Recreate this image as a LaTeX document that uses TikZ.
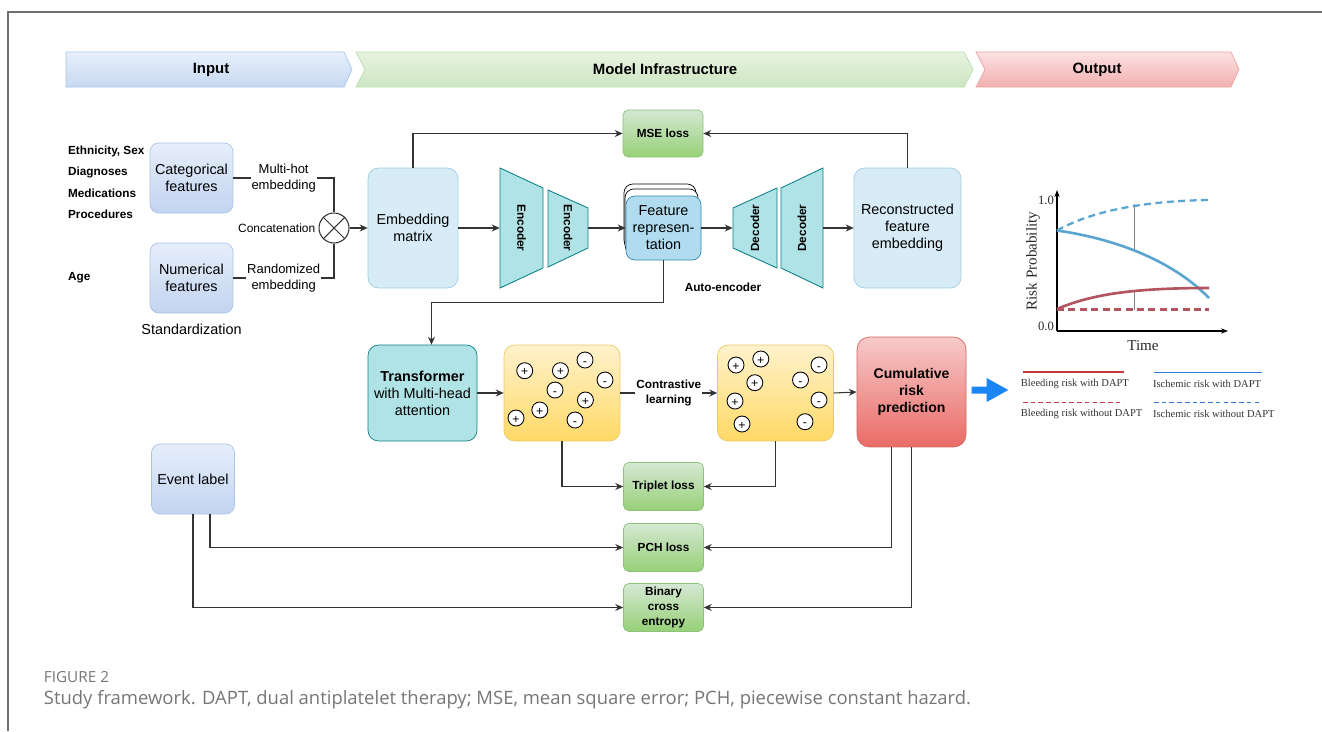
\documentclass[tikz,border=0pt]{standalone}
\usepackage{fontspec}
\setmainfont{Liberation Sans}
\newfontfamily\chartfont{Liberation Serif}
\newfontfamily\capfont{Open Sans}
\usetikzlibrary{shapes.geometric, arrows.meta, positioning, calc}
\definecolor{lineGray}{RGB}{51,51,51}
\definecolor{frameGray}{RGB}{110,110,110}
\definecolor{capGray}{RGB}{118,118,118}
\definecolor{inTop}{RGB}{230,238,250}
\definecolor{inBot}{RGB}{194,212,240}
\definecolor{inLine}{RGB}{169,195,232}
\definecolor{embFill}{RGB}{215,236,246}
\definecolor{embLine}{RGB}{159,205,227}
\definecolor{featFill}{RGB}{177,220,239}
\definecolor{featLine}{RGB}{46,134,181}
\definecolor{tealFill}{RGB}{176,227,230}
\definecolor{tealLine}{RGB}{14,128,136}
\definecolor{yelTop}{RGB}{255,242,204}
\definecolor{yelBot}{RGB}{255,217,102}
\definecolor{yelLine}{RGB}{232,201,106}
\definecolor{redTop}{RGB}{246,202,202}
\definecolor{redBot}{RGB}{234,107,102}
\definecolor{redLine}{RGB}{207,102,97}
\definecolor{grnTop}{RGB}{213,232,212}
\definecolor{grnBot}{RGB}{151,208,119}
\definecolor{grnLine}{RGB}{141,194,122}
\definecolor{hBlueTop}{RGB}{232,240,251}
\definecolor{hBlueBot}{RGB}{198,216,241}
\definecolor{hBlueLine}{RGB}{169,196,235}
\definecolor{hGrnTop}{RGB}{232,243,226}
\definecolor{hGrnBot}{RGB}{205,230,193}
\definecolor{hGrnLine}{RGB}{185,221,170}
\definecolor{hRedTop}{RGB}{252,225,225}
\definecolor{hRedBot}{RGB}{242,176,176}
\definecolor{hRedLine}{RGB}{235,163,163}
\definecolor{curveBlue}{RGB}{91,166,208}
\definecolor{curveRed}{RGB}{179,84,94}
\definecolor{legRed}{RGB}{200,57,63}
\definecolor{legBlue}{RGB}{46,123,209}
\definecolor{arrBlue}{RGB}{26,134,245}

\begin{document}
\begin{tikzpicture}[x=0.02cm, y=-0.02cm,
  every node/.style={font=\fontsize{8.2}{9.7}\selectfont, align=center, inner sep=1pt},
  bsmall/.style={font=\fontsize{6.7}{8.3}\selectfont\bfseries},
  conn/.style={draw=lineGray, line width=0.6pt, -{Stealth[length=4.5pt, width=4pt]}},
  plain/.style={draw=lineGray, line width=0.6pt},
  lbl/.style={fill=white, inner sep=0.5pt, font=\fontsize{6.8}{8.7}\selectfont},
  inbox/.style={draw=inLine, top color=inTop, bottom color=inBot, rounded corners=5pt, minimum width=1.66cm, minimum height=1.4cm},
  embbox/.style={draw=embLine, fill=embFill, rounded corners=6pt, minimum height=2.4cm},
  coder/.style={draw=tealLine, fill=tealFill, line width=0.5pt},
  lossbox/.style={bsmall, draw=grnLine, top color=grnTop, bottom color=grnBot, rounded corners=3pt, minimum width=1.6cm, minimum height=0.96cm},
  dotbox/.style={draw=yelLine, top color=yelTop, bottom color=yelBot, rounded corners=6pt, minimum width=2.32cm, minimum height=1.92cm},
  pm/.style={circle, draw=black, fill=white, line width=0.5pt, minimum size=0.32cm, inner sep=0pt, text height=0.6em, text depth=0pt, font=\fontsize{7}{7}\selectfont},
  chart/.style={font=\fontsize{8.6}{10}\chartfont, text=black!85},
  legtxt/.style={anchor=west, inner sep=0pt, font=\fontsize{6}{7}\chartfont, text=black!80},
  hfont/.style={font=\fontsize{8.5}{10}\selectfont\bfseries}]
  \useasboundingbox (0,0) rectangle (1322,731);
  % page frame
  \draw[frameGray, line width=0.7pt] (8,731) -- (8,12) -- (1322,12);
  % Header
  \shade[top color=hBlueTop, bottom color=hBlueBot, draw=hBlueLine] (66,52) -- (344,52) -- (352,69.5) -- (344,87) -- (66,87) -- cycle;
  \shade[top color=hGrnTop, bottom color=hGrnBot, draw=hGrnLine] (356,52) -- (964,52) -- (973,69.5) -- (964,87) -- (356,87) -- (365,69.5) -- cycle;
  \shade[top color=hRedTop, bottom color=hRedBot, draw=hRedLine] (976,52) -- (1231,52) -- (1239,69.5) -- (1231,87) -- (976,87) -- (985,69.5) -- cycle;
  \node[hfont] (hIn) at (211,69.5) {Input};
  \node[hfont] (hModel) at (665,69.5) {Model Infrastructure};
  \node[hfont] (hOut) at (1097,69.5) {Output};
  % Input features
  \node[bsmall, anchor=west] (lEth) at (66,151) {Ethnicity, Sex};
  \node[bsmall, anchor=west] (lDia) at (66,172) {Diagnoses};
  \node[bsmall, anchor=west] (lMed) at (66,193) {Medications};
  \node[bsmall, anchor=west] (lPro) at (66,214) {Procedures};
  \node[bsmall, anchor=west] (lAge) at (66,278) {Age};
  \node[inbox] (cat) at (191.5,178) {Categorical\\features};
  \node[inbox] (num) at (191.5,278) {Numerical\\features};
  \node[below=0.17cm of num] (std) {Standardization};
  \node[inbox] (ev) at (193,479) {Event label};
  % Concatenation
  \node[circle, draw=lineGray, line width=0.6pt, minimum size=0.6cm, inner sep=0pt] (cc) at (334,228) {};
  \draw[lineGray, line width=0.6pt] (cc.north west) -- (cc.south east) (cc.north east) -- (cc.south west);
  \node[lbl, left=0.04cm of cc] (ccl) {Concatenation};
  \draw[plain] (cat.east) -| node[lbl, pos=0.25, font=\fontsize{7.4}{8.7}\selectfont] {Multi-hot\\embedding} (cc.north);
  \draw[plain] (num.east) -| node[lbl, pos=0.25, font=\fontsize{7.4}{8.7}\selectfont] {Randomized\\embedding} (cc.south);
  % Auto-encoder
  \node[embbox, minimum width=1.8cm] (emb) at (413,228) {Embedding\\matrix};
  \node[embbox, minimum width=2.14cm] (rec) at (907.5,228) {Reconstructed\\feature\\embedding};
  \draw[coder] (500,168) -- (543,188) -- (543,268) -- (500,288) -- cycle;
  \draw[coder] (548,190) -- (588,208) -- (588,248) -- (548,267) -- cycle;
  \draw[coder] (733,208) -- (777,188) -- (777,268) -- (733,248) -- cycle;
  \draw[coder] (781,188) -- (823,168) -- (823,288) -- (781,268) -- cycle;
  \node[bsmall, rotate=-90, minimum width=2.4cm, minimum height=0.86cm] (enc1) at (521.5,228) {Encoder};
  \node[bsmall, rotate=-90, minimum width=1.54cm, minimum height=0.8cm] (enc2) at (568,228) {Encoder};
  \node[bsmall, rotate=90, minimum width=1.6cm, minimum height=0.88cm] (dec1) at (755,228) {Decoder};
  \node[bsmall, rotate=90, minimum width=2.4cm, minimum height=0.84cm] (dec2) at (802,228) {Decoder};
  \node[draw=black, fill=white, rounded corners=5pt, minimum width=1.44cm, minimum height=1.3cm] (featB1) at (660,216.5) {};
  \node[draw=black, fill=white, rounded corners=5pt, minimum width=1.46cm, minimum height=1.3cm] (featB2) at (661.5,221.5) {};
  \node[draw=featLine, fill=featFill, rounded corners=5pt, minimum width=1.5cm, minimum height=1.28cm] (feat) at (663.5,228) {Feature\\represen-\\tation};
  \node[bsmall] (ae) at (723,287) {Auto-encoder};
  \node[lossbox, minimum height=0.94cm] (mse) at (663,133.5) {MSE loss};
  \draw[conn] (cc.east) -- (emb.west);
  \draw[conn] (emb.east) -- (enc1.south);
  \draw[conn] (enc2.north) -- (feat.west);
  \draw[conn] (feat.east) -- (dec1.north);
  \draw[conn] (dec2.south) -- (rec.west);
  \draw[conn] (emb.north) |- (mse.west);
  \draw[conn] (rec.north) |- (mse.east);
  % Contrastive learning
  \node[draw=tealLine, fill=tealFill, rounded corners=6pt, minimum width=2.18cm, minimum height=1.92cm] (trans) at (422.5,393) {\textbf{Transformer}\\with Multi-head\\attention};
  \node[dotbox] (y1) at (562,393) {};
  \node[dotbox] (y2) at (775.5,393) {};
  \foreach \px/\py/\sg [count=\i] in {524.7/370.7/+, 560.4/370.7/+, 585/360/-, 605/380/-, 555/390/-, 585.4/400/+, 539.8/410/+, 516/418/+, 575/420/-}
    \node[pm] (a\i) at (\px,\py) {\sg};
  \foreach \px/\py/\sg [count=\i] in {736/365/+, 760.8/359/+, 754.8/382.7/+, 735/401/+, 742/424/+, 819/365/-, 800.5/380/-, 819/400/-, 805/421.7/-}
    \node[pm] (b\i) at (\px,\py) {\sg};
  \node[draw=redLine, top color=redTop, bottom color=redBot, rounded corners=7pt, minimum width=2.18cm, minimum height=2.2cm, font=\fontsize{8}{9.7}\selectfont\bfseries] (cum) at (911.5,392) {Cumulative\\risk\\prediction};
  \draw[conn] (feat.south) -- ++(0,42) -| ([xshift=0.18cm]trans.north);
  \draw[conn] (trans.east) -- (y1.west);
  \draw[conn] (y1.east) -- node[lbl, bsmall] {Contrastive\\learning} (y2.west);
  \draw[conn] (y2.east) -- (cum.west);
  % Losses
  \node[lossbox] (trip) at (663.5,486.5) {Triplet loss};
  \node[lossbox] (pch) at (663.5,547.5) {PCH loss};
  \node[lossbox] (bce) at (663.5,607.5) {Binary\\cross\\entropy};
  \draw[conn] (y1.south) |- (trip.west);
  \draw[conn] (y2.south) |- (trip.east);
  \draw[conn] ([xshift=-0.4cm]cum.south) |- (pch.east);
  \draw[conn] (cum.south) |- (bce.east);
  \draw[conn] ([xshift=0.34cm]ev.south) |- (pch.west);
  \draw[conn] (ev.south) |- (bce.west);
  % Output chart
  \fill[arrBlue] (971.7,386.5) -- (986.7,386.5) -- (986.7,378) -- (1008.3,390) -- (986.7,402) -- (986.7,393.5) -- (971.7,393.5) -- cycle;
  \draw[black, line width=0.9pt, -{Stealth[length=4pt, width=3pt]}] (1057,331) -- (1057,190);
  \draw[black, line width=0.9pt, -{Stealth[length=4pt, width=3pt]}] (1057,331) -- (1228,331);
  \draw[gray, line width=0.4pt] (1134.5,204) -- (1134.5,251) (1134.5,290) -- (1134.5,309.5);
  \draw[curveBlue, line width=1.3pt, dash pattern=on 4pt off 2.5pt] (1057,230.5) .. controls (1090,212) and (1140,201) .. (1209,200);
  \draw[curveBlue, line width=1.5pt] (1057,230.5) .. controls (1110,238) and (1170,258) .. (1209,298);
  \draw[curveRed, line width=1.5pt] (1057,309) .. controls (1090,295) and (1130,288) .. (1209,288);
  \draw[curveRed, line width=1.3pt, dash pattern=on 4pt off 2.5pt] (1057,309.5) -- (1209,309.5);
  \node[chart, font=\fontsize{7.2}{8}\chartfont] (yTop) at (1046,200) {1.0};
  \node[chart, font=\fontsize{7.2}{8}\chartfont] (yBot) at (1046,326.5) {0.0};
  \node[chart, rotate=90] (yLab) at (1033,261) {Risk Probability};
  \node[chart] (xLab) at (1143,346) {Time};
  % Legend
  \draw[legRed, line width=0.75pt] (1023,372) -- (1123.5,372);
  \draw[legRed, line width=0.75pt, dash pattern=on 2.6pt off 1.8pt] (1023,402.5) -- (1123.5,402.5);
  \draw[legBlue, line width=0.75pt] (1154,372.5) -- (1262,372.5);
  \draw[legBlue, line width=0.75pt, dash pattern=on 2.6pt off 1.8pt] (1154,402.5) -- (1262,402.5);
  \node[legtxt] (lgBw) at (1020.5,384) {Bleeding risk with DAPT};
  \node[legtxt] (lgBwo) at (1020.5,414) {Bleeding risk without DAPT};
  \node[legtxt] (lgIw) at (1152.7,384) {Ischemic risk with DAPT};
  \node[legtxt] (lgIwo) at (1152.7,414) {Ischemic risk without DAPT};
  % Caption
  \node[anchor=west, inner sep=0pt, text=capGray, font=\fontsize{8.7}{10}\capfont] (figNo) at (43.6,677) {FIGURE 2};
  \node[anchor=west, inner sep=0pt, text=capGray, font=\fontsize{10.5}{12}\capfont] (cap) at (43.6,700) {Study framework. DAPT, dual antiplatelet therapy; MSE, mean square error; PCH, piecewise constant hazard.};
\end{tikzpicture}
\end{document}
